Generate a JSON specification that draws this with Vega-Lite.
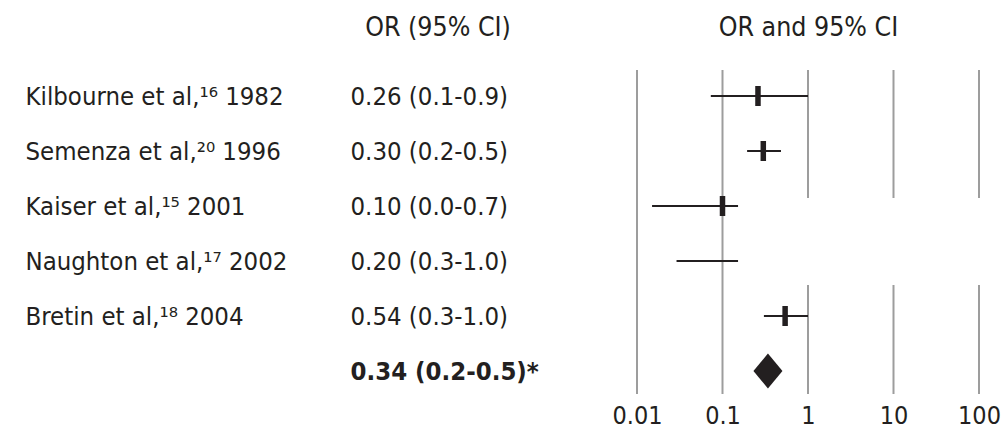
{
  "$schema": "https://vega.github.io/schema/vega-lite/v6.json",
  "autosize": {"type": "none"},
  "padding": {"left": 637, "top": 68.5, "right": 26, "bottom": 39.5},
  "width": 342,
  "height": 330,
  "background": "white",
  "config": {
    "view": {"stroke": null},
    "font": "DejaVu Sans Condensed",
    "axis": {"labelFont": "DejaVu Sans Condensed", "titleFont": "DejaVu Sans Condensed"}
  },
  "datasets": {
    "studies": [
      {"study": "Kilbourne et al,¹⁶ 1982", "ci": "0.26 (0.1-0.9)", "row": 1, "or": 0.26, "lo": 0.073, "hi": 1.0, "type": "study"},
      {"study": "Semenza et al,²⁰ 1996", "ci": "0.30 (0.2-0.5)", "row": 2, "or": 0.30, "lo": 0.194, "hi": 0.483, "type": "study"},
      {"study": "Kaiser et al,¹⁵ 2001", "ci": "0.10 (0.0-0.7)", "row": 3, "or": 0.10, "lo": 0.015, "hi": 0.152, "type": "study"},
      {"study": "Naughton et al,¹⁷ 2002", "ci": "0.20 (0.3-1.0)", "row": 4, "or": 0.20, "lo": 0.029, "hi": 0.152, "type": "study"},
      {"study": "Bretin et al,¹⁸ 2004", "ci": "0.54 (0.3-1.0)", "row": 5, "or": 0.54, "lo": 0.305, "hi": 1.0, "type": "study"},
      {"study": "", "ci": "0.34 (0.2-0.5)*", "row": 6, "or": 0.34, "lo": null, "hi": null, "type": "pooled"}
    ],
    "grid": [
      {"value": 0.01, "from": 0.527, "to": 6.418},
      {"value": 0.1, "from": 0.527, "to": 6.418},
      {"value": 1, "from": 0.527, "to": 2.855},
      {"value": 1, "from": 4.436, "to": 6.418},
      {"value": 10, "from": 0.527, "to": 2.855},
      {"value": 10, "from": 4.436, "to": 6.418},
      {"value": 100, "from": 0.527, "to": 2.855},
      {"value": 100, "from": 4.436, "to": 6.418}
    ]
  },
  "data": {"name": "studies"},
  "resolve": {"scale": {"y": "independent"}, "axis": {"y": "independent"}},
  "layer": [
    {
      "data": {"name": "grid"},
      "mark": {"type": "rule", "color": "#9d9d9d", "strokeWidth": 2},
      "encoding": {
        "x": {
          "field": "value", "type": "quantitative",
          "scale": {"type": "log", "domain": [0.01, 100], "nice": false},
          "axis": {
            "values": [0.01, 0.1, 1, 10, 100], "format": "~g",
            "grid": false, "domain": false, "ticks": false, "tickSize": 0,
            "labelPadding": 5, "labelFontSize": 25, "labelColor": "#231f20",
            "labelFlush": false, "labelOverlap": false,
            "title": "OR and 95% CI", "titleX": 171, "titleY": -371.5,
            "titleAlign": "center", "titleBaseline": "middle",
            "titleFontSize": 26.5, "titleFontWeight": "normal", "titleColor": "#231f20"
          }
        },
        "y": {"field": "from", "type": "quantitative", "scale": {"domain": [0.5, 6.5], "reverse": true, "nice": false, "zero": false}, "axis": null},
        "y2": {"field": "to"}
      }
    },
    {
      "transform": [{"filter": "datum.type === 'study'"}],
      "mark": {"type": "rule", "color": "#231f20", "strokeWidth": 1.8},
      "encoding": {
        "x": {"field": "lo", "type": "quantitative"},
        "x2": {"field": "hi"},
        "y": {"field": "row", "type": "quantitative", "scale": {"domain": [0.5, 6.5], "reverse": true, "nice": false, "zero": false}, "axis": null}
      }
    },
    {
      "transform": [{"filter": "datum.type === 'study' && datum.or >= datum.lo && datum.or <= datum.hi"}],
      "mark": {"type": "tick", "color": "#231f20", "orient": "vertical", "thickness": 5.5, "size": 20, "opacity": 1},
      "encoding": {
        "x": {"field": "or", "type": "quantitative"},
        "y": {"field": "row", "type": "quantitative", "scale": {"domain": [0.5, 6.5], "reverse": true, "nice": false, "zero": false}, "axis": null}
      }
    },
    {
      "transform": [{"filter": "datum.type === 'pooled'"}],
      "mark": {"type": "point", "shape": "M0,-1.2L1,0L0,1.2L-1,0Z", "size": 841, "filled": true, "color": "#231f20", "opacity": 1},
      "encoding": {
        "x": {"field": "or", "type": "quantitative"},
        "y": {"field": "row", "type": "quantitative", "scale": {"domain": [0.5, 6.5], "reverse": true, "nice": false, "zero": false}, "axis": null}
      }
    },
    {
      "mark": {"type": "point", "opacity": 0},
      "encoding": {
        "y": {
          "field": "study", "type": "nominal", "sort": null,
          "axis": {
            "orient": "left", "title": null, "domain": false, "ticks": false, "tickSize": 0, "grid": false,
            "labelAlign": "left", "labelPadding": 612, "labelFontSize": 25.5, "labelColor": "#231f20",
            "labelLimit": 1000, "labelOverlap": false
          }
        }
      }
    },
    {
      "mark": {"type": "point", "opacity": 0},
      "encoding": {
        "y": {
          "field": "ci", "type": "nominal", "sort": null,
          "axis": {
            "orient": "left", "domain": false, "ticks": false, "tickSize": 0, "grid": false,
            "labelAlign": "left", "labelPadding": 287, "labelFontSize": 25.5, "labelColor": "#231f20",
            "labelLimit": 1000, "labelOverlap": false,
            "labelFontWeight": {"condition": {"test": "datum.value === '0.34 (0.2-0.5)*'", "value": "bold"}, "value": "normal"},
            "title": "OR (95% CI)", "titleAngle": 0, "titleX": -199.5, "titleY": -41.5,
            "titleAlign": "center", "titleBaseline": "middle",
            "titleFontSize": 26.5, "titleFontWeight": "normal", "titleColor": "#231f20"
          }
        }
      }
    }
  ]
}
